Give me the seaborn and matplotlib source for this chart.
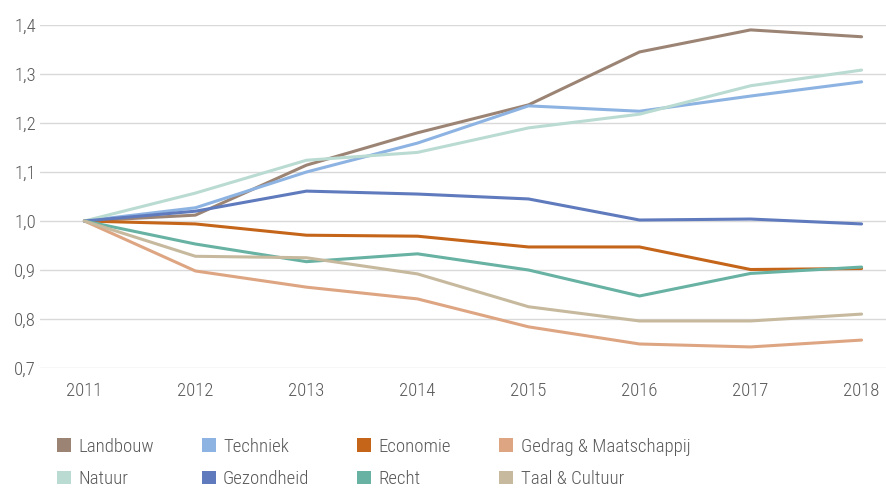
import matplotlib
matplotlib.use("Agg")
import matplotlib.pyplot as plt
import matplotlib.ticker as mticker
from matplotlib.patches import Patch
import pandas as pd
import seaborn as sns

sns.set_theme(style="white")
plt.rcParams["font.family"] = ["Roboto Condensed", "Open Sans", "DejaVu Sans"]
plt.rcParams["font.weight"] = "light"

years = [2011, 2012, 2013, 2014, 2015, 2016, 2017, 2018]

series = {
    "Landbouw":             [1.0, 1.012, 1.114, 1.180, 1.237, 1.345, 1.390, 1.376],
    "Techniek":             [1.0, 1.027, 1.100, 1.159, 1.235, 1.224, 1.255, 1.284],
    "Economie":             [1.0, 0.994, 0.971, 0.969, 0.947, 0.947, 0.901, 0.903],
    "Gedrag & Maatschappij": [1.0, 0.898, 0.865, 0.841, 0.784, 0.749, 0.743, 0.757],
    "Natuur":               [1.0, 1.057, 1.124, 1.140, 1.190, 1.218, 1.276, 1.308],
    "Gezondheid":           [1.0, 1.020, 1.061, 1.055, 1.045, 1.002, 1.004, 0.994],
    "Recht":                [1.0, 0.953, 0.917, 0.933, 0.900, 0.847, 0.893, 0.906],
    "Taal & Cultuur":       [1.0, 0.928, 0.925, 0.892, 0.825, 0.796, 0.796, 0.810],
}

PALETTE = {
    "Landbouw": "#9c8475",
    "Techniek": "#8db3e2",
    "Economie": "#c4651a",
    "Gedrag & Maatschappij": "#dea582",
    "Natuur": "#badbd2",
    "Gezondheid": "#5f7abd",
    "Recht": "#67b2a3",
    "Taal & Cultuur": "#c6b99e",
}

TEXT = "#595959"

rows = []
for name, vals in series.items():
    for yr, v in zip(years, vals):
        rows.append({"year": yr, "value": v, "serie": name})
df = pd.DataFrame(rows)

fig = plt.figure(figsize=(8.86, 4.88), dpi=100)
ax = fig.add_axes([40 / 886, 1 - 368 / 488, 846 / 886, 343 / 488])

sns.lineplot(data=df, x="year", y="value", hue="serie", palette=PALETTE,
             linewidth=2.2, ax=ax, legend=False)

ax.set_xlim(2011 - 0.4, 2018 + 0.22)
ax.set_ylim(0.7, 1.4)
ax.set_yticks([0.7, 0.8, 0.9, 1.0, 1.1, 1.2, 1.3, 1.4])
ax.yaxis.set_major_formatter(mticker.FuncFormatter(lambda v, _: f"{v:.1f}".replace(".", ",")))
ax.set_xticks(years)
ax.set_xlabel("")
ax.set_ylabel("")
ax.grid(axis="y", color="#d9d9d9", linewidth=1)
ax.set_axisbelow(True)
for spine in ax.spines.values():
    spine.set_visible(False)
ax.tick_params(axis="both", length=0, labelsize=13.5, colors=TEXT)
ax.tick_params(axis="x", pad=10)
ax.tick_params(axis="y", pad=3)

order = ["Landbouw", "Natuur", "Techniek", "Gezondheid",
         "Economie", "Recht", "Gedrag & Maatschappij", "Taal & Cultuur"]
handles = [Patch(facecolor=PALETTE[n], edgecolor="none") for n in order]
leg = fig.legend(handles, order, ncol=4, loc="upper left",
                 bbox_to_anchor=(49 / 886, 1 - 430 / 488), frameon=False,
                 fontsize=13.5, handlelength=0.75, handleheight=0.75,
                 handletextpad=0.4, columnspacing=2.55, labelspacing=0.78,
                 borderaxespad=0)
for t in leg.get_texts():
    t.set_color(TEXT)

fig.savefig("out.png", dpi=100, facecolor="white")
